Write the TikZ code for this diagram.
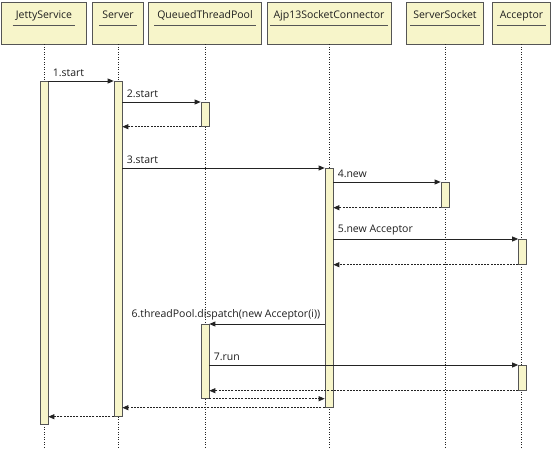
\documentclass[tikz,border=0pt]{standalone}
\usepackage{fontspec}
\setmainfont{Open Sans}
\usetikzlibrary{positioning,arrows.meta,calc}
\definecolor{boxfill}{RGB}{247,245,202}
\definecolor{boxline}{RGB}{85,85,85}
\definecolor{msgline}{RGB}{35,35,35}
\definecolor{labeltext}{RGB}{30,30,30}
\tikzset{
    >={Triangle[length=6pt,width=5pt]},
    objbox/.style={rectangle, draw=boxline, fill=boxfill, line width=0.9pt, minimum height=42pt, inner sep=0pt},
    objname/.style={inner xsep=3pt, inner ysep=4pt, text height=7.5pt, text depth=2.5pt, text=labeltext, font=\fontsize{10.5}{12}\selectfont},
    lifeline/.style={draw=msgline, line width=0.7pt, dash pattern=on 1pt off 1.5pt},
    act/.style={rectangle, draw=boxline, fill=boxfill, line width=0.7pt, minimum width=8pt, inner sep=0pt, anchor=north},
    call/.style={->, draw=msgline, line width=0.8pt},
    back/.style={->, draw=msgline, line width=0.8pt, dash pattern=on 2pt off 1.2pt},
    msg/.style={inner sep=2pt, yshift=2pt, text=labeltext, font=\fontsize{10.5}{12}\selectfont}
}
\begin{document}
\begin{tikzpicture}[x=1pt, y=-1pt]
    \useasboundingbox (0,0) rectangle (555,458);
    % objects
    \node[objbox, minimum width=85pt] (js) at (44,23) {};
    \node[objbox, minimum width=51pt] (srv) at (118,23) {};
    \node[objbox, minimum width=113pt] (qtp) at (205,23) {};
    \node[objbox, minimum width=124pt] (ajp) at (329,23) {};
    \node[objbox, minimum width=77pt] (ss) at (445,23) {};
    \node[objbox, minimum width=58pt] (acc) at (521.5,23) {};
    \node[objname] (js-t) at (js.center |- 0,16) {JettyService};
    \node[objname] (srv-t) at (srv.center |- 0,16) {Server};
    \node[objname] (qtp-t) at (qtp.center |- 0,16) {QueuedThreadPool};
    \node[objname] (ajp-t) at (ajp.center |- 0,16) {Ajp13SocketConnector};
    \node[objname] (ss-t) at (ss.center |- 0,16) {ServerSocket};
    \node[objname] (acc-t) at (acc.center |- 0,16) {Acceptor};
    \coordinate (lifeEnd) at (0,448);
    \foreach \o in {js,srv,qtp,ajp,ss,acc} {
        \draw[draw=boxline, line width=0.9pt] (\o-t.south west) -- (\o-t.south east);
        \draw[lifeline] (\o.south) -- (\o.south |- lifeEnd);
    }

    % activations
    \node[act, minimum height=343pt] (jsAct) at (44,81) {};
    \node[act, minimum height=335pt] (srvAct) at (118,81) {};
    \node[act, minimum height=24pt] (qtpAct1) at (205,102) {};
    \node[act, minimum height=239pt] (ajpAct) at (329,168) {};
    \node[act, minimum height=25pt] (ssAct) at (445,182) {};
    \node[act, minimum height=25pt] (accAct1) at (522.5,239) {};
    \node[act, minimum height=74pt] (qtpAct2) at (205,324) {};
    \node[act, minimum height=25pt] (accAct2) at (522.5,365) {};

    % messages
    \draw[call] (jsAct.north east) -- (srvAct.north west)
        node[msg, pos=0, anchor=south west, xshift=2pt] {1.start};
    \draw[call] (srvAct.east |- qtpAct1.north) -- (qtpAct1.north west)
        node[msg, pos=0, anchor=south west, xshift=2pt] {2.start};
    \draw[back] (qtpAct1.south west) -- (srvAct.east |- qtpAct1.south);
    \draw[call] (srvAct.east |- ajpAct.north) -- (ajpAct.north west)
        node[msg, pos=0, anchor=south west, xshift=2pt] {3.start};
    \draw[call] (ajpAct.east |- ssAct.north) -- (ssAct.north west)
        node[msg, pos=0, anchor=south west, xshift=2pt] {4.new};
    \draw[back] (ssAct.south west) -- (ajpAct.east |- ssAct.south);
    \draw[call] (ajpAct.east |- accAct1.north) -- (accAct1.north west)
        node[msg, pos=0, anchor=south west, xshift=2pt] {5.new Acceptor};
    \draw[back] (accAct1.south west) -- (ajpAct.east |- accAct1.south);
    \draw[call] (ajpAct.west |- qtpAct2.north) -- (qtpAct2.north east)
        node[msg, pos=0, anchor=south east, xshift=-2pt] {6.threadPool.dispatch(new Acceptor(i))};
    \draw[call] (qtpAct2.east |- accAct2.north) -- (accAct2.north west)
        node[msg, pos=0, anchor=south west, xshift=2pt] {7.run};
    \draw[back] (accAct2.south west) -- (qtpAct2.east |- accAct2.south);
    \draw[back] (qtpAct2.south east) -- (ajpAct.west |- qtpAct2.south);
    \draw[back] (ajpAct.south west) -- (srvAct.east |- ajpAct.south);
    \draw[back] (srvAct.south west) -- (jsAct.east |- srvAct.south);
\end{tikzpicture}
\end{document}
